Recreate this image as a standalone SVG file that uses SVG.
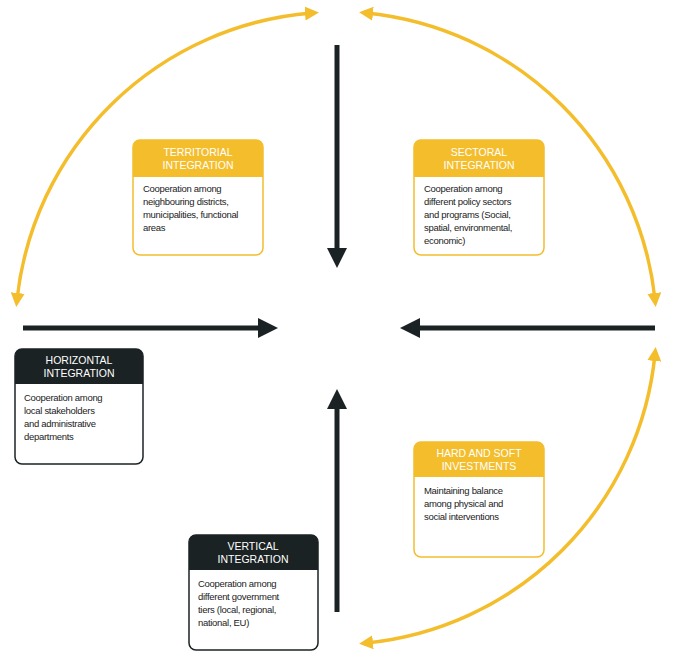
<svg xmlns="http://www.w3.org/2000/svg" width="675" height="660" viewBox="0 0 675 660">
<style>
.arc{fill:none;stroke:#f4bd2c;stroke-width:3.5;marker-start:url(#ya);marker-end:url(#ya)}
.bar{stroke:#1b2224;stroke-width:5;marker-end:url(#ba)}
.yb{fill:#fff;stroke:#f4bd2c;stroke-width:1.5}
.db{fill:#fff;stroke:#1b2224;stroke-width:1.5}
.yh{fill:#f4bd2c}
.dh{fill:#1b2224}
.ht{font-family:"Liberation Sans",Arial,sans-serif;font-size:10.5px;fill:#fff;text-anchor:middle}
.bt{font-family:"Liberation Sans",Arial,sans-serif;font-size:9.5px;fill:#222;letter-spacing:-0.3px}
</style>
<defs>
<marker id="ya" viewBox="0 0 10 10" refX="5" refY="5" markerWidth="4" markerHeight="4" orient="auto-start-reverse"><path d="M0,0 L10,5 L0,10 z" fill="#f4bd2c"/></marker>
<marker id="ba" viewBox="0 0 10 10" refX="2" refY="5" markerWidth="4" markerHeight="4" orient="auto"><path d="M0,0 L10,5 L0,10 z" fill="#1b2224"/></marker>
</defs>
<rect width="675" height="660" fill="#fff"/>
<g id="connectors">
<path class="arc" d="M17 300 A322 322 0 0 1 312 13"/>
<path class="arc" d="M366 13 A322 322 0 0 1 655 300"/>
<path class="arc" d="M655 354 A322 322 0 0 1 366 643"/>
<line class="bar" x1="337" y1="45" x2="337" y2="252"/>
<line class="bar" x1="23" y1="328" x2="262" y2="328"/>
<line class="bar" x1="655" y1="328" x2="416" y2="328"/>
<line class="bar" x1="337" y1="612" x2="337" y2="405"/>
</g>
<g id="territorial">
<rect class="yb" x="133" y="140" width="130" height="115" rx="7"/>
<path class="yh" d="M140 140 H256 A7 7 0 0 1 263 147 V177 H133 V147 A7 7 0 0 1 140 140 Z"/>
<text class="ht" x="198" y="156">TERRITORIAL</text><text class="ht" x="198" y="169">INTEGRATION</text>
<text class="bt" x="143" y="192">Cooperation among</text><text class="bt" x="143" y="205">neighbouring districts,</text><text class="bt" x="143" y="218">municipalities, functional</text><text class="bt" x="143" y="231">areas</text>
</g>
<g id="sectoral">
<rect class="yb" x="414" y="140" width="130" height="115" rx="7"/>
<path class="yh" d="M421 140 H537 A7 7 0 0 1 544 147 V177 H414 V147 A7 7 0 0 1 421 140 Z"/>
<text class="ht" x="479" y="156">SECTORAL</text><text class="ht" x="479" y="169">INTEGRATION</text>
<text class="bt" x="424" y="192">Cooperation among</text><text class="bt" x="424" y="205">different policy sectors</text><text class="bt" x="424" y="218">and programs (Social,</text><text class="bt" x="424" y="231">spatial, environmental,</text><text class="bt" x="424" y="244">economic)</text>
</g>
<g id="horizontal">
<rect class="db" x="15" y="349" width="128" height="115" rx="7"/>
<path class="dh" d="M22 349 H136 A7 7 0 0 1 143 356 V384 H15 V356 A7 7 0 0 1 22 349 Z"/>
<text class="ht" x="79" y="364">HORIZONTAL</text><text class="ht" x="79" y="377">INTEGRATION</text>
<text class="bt" x="24" y="401">Cooperation among</text><text class="bt" x="24" y="414">local stakeholders</text><text class="bt" x="24" y="427">and administrative</text><text class="bt" x="24" y="440">departments</text>
</g>
<g id="hardsoft">
<rect class="yb" x="414" y="442" width="130" height="115" rx="7"/>
<path class="yh" d="M421 442 H537 A7 7 0 0 1 544 449 V477 H414 V449 A7 7 0 0 1 421 442 Z"/>
<text class="ht" x="479" y="457">HARD AND SOFT</text><text class="ht" x="479" y="470">INVESTMENTS</text>
<text class="bt" x="424" y="494">Maintaining balance</text><text class="bt" x="424" y="507">among physical and</text><text class="bt" x="424" y="520">social interventions</text>
</g>
<g id="vertical">
<rect class="db" x="189" y="535" width="129" height="115" rx="7"/>
<path class="dh" d="M196 535 H311 A7 7 0 0 1 318 542 V570 H189 V542 A7 7 0 0 1 196 535 Z"/>
<text class="ht" x="253" y="550">VERTICAL</text><text class="ht" x="253" y="563">INTEGRATION</text>
<text class="bt" x="198" y="587">Cooperation among</text><text class="bt" x="198" y="600">different government</text><text class="bt" x="198" y="613">tiers (local, regional,</text><text class="bt" x="198" y="626">national, EU)</text>
</g>
</svg>
